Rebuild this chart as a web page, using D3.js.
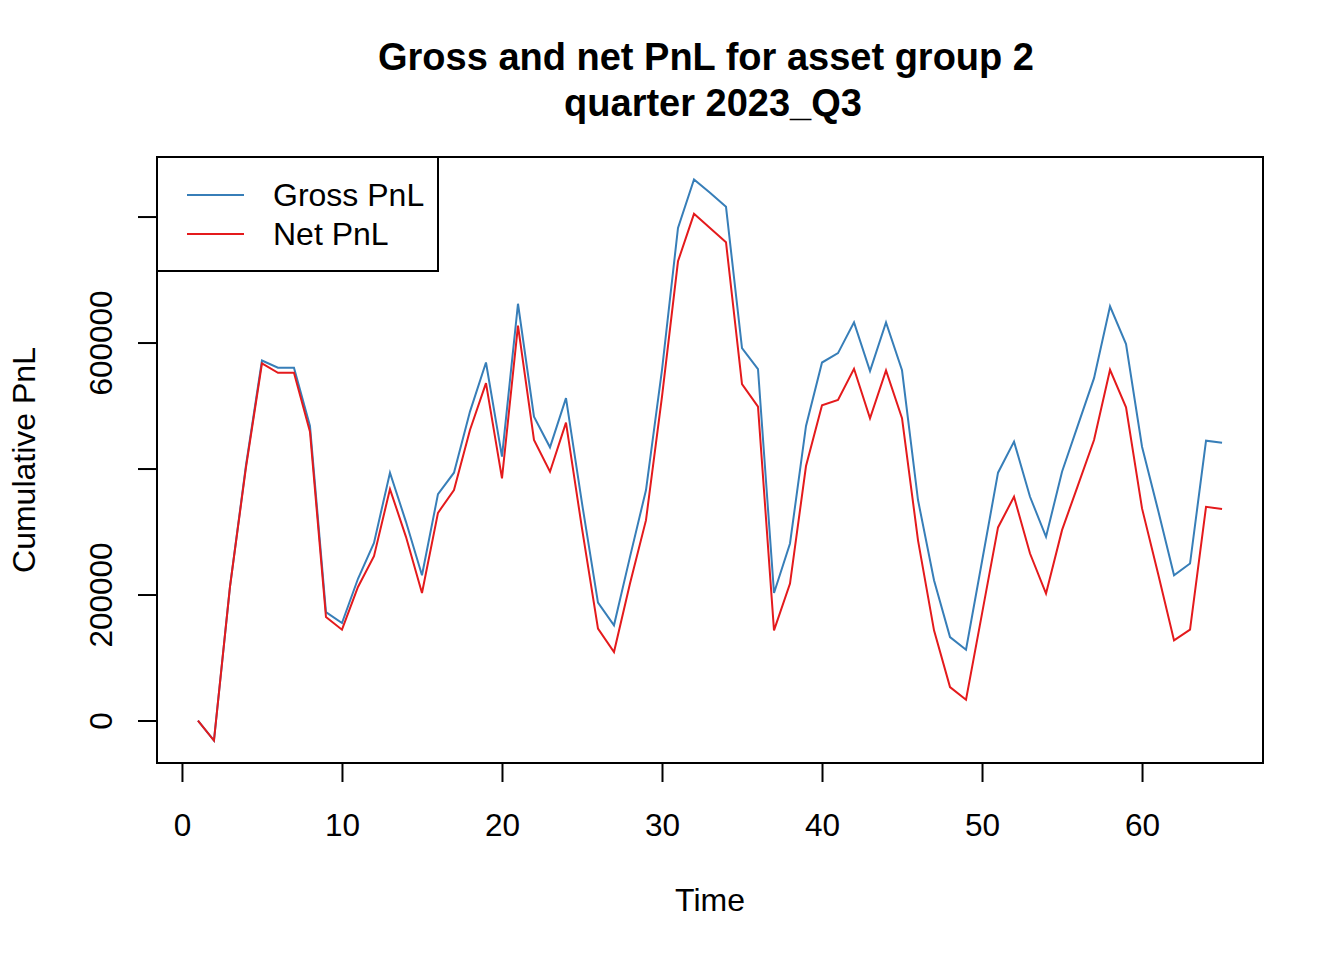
<!DOCTYPE html>
<html>
<head>
<meta charset="utf-8">
<script src="https://cdn.jsdelivr.net/npm/d3@7"></script>
<style>
  body { margin: 0; background: #fff; }
  text { font-family: "Liberation Sans", Arial, sans-serif; fill: #000; }
</style>
</head>
<body>
<script>
const times = d3.range(1, 66)

const gross = [
  0, -31800, 212000, 405000, 571500, 560000, 560000, 467600, 172000, 154800,
  225000, 282000, 393400, 315400, 230600, 359500, 393400, 490400, 568300, 418800,
  661600, 482400, 433700, 511700, 345000, 187200, 151100, 259800, 365800, 556700,
  782000, 858900, 837700, 815400, 591200, 557800, 202500, 281000, 467600, 568300,
  583200, 632000, 554600, 632000, 556000, 350000, 222700, 132500, 112400, 252900,
  393400, 442700, 355200, 291600, 395000, 469200, 543500, 657400, 597500, 434700,
  334000, 230600, 249200, 444200, 441000
]

const net = [
  0, -31800, 212000, 402000, 567000, 552000, 552000, 458600, 164300, 144200,
  212000, 260800, 367400, 291600, 202500, 329700, 365800, 461200, 535500, 384400,
  626700, 445300, 395000, 472900, 305000, 145800, 108700, 217400, 318100, 514200,
  729000, 804300, 782000, 759200, 533900, 498300, 143100, 217400, 404000, 500500,
  509000, 558300, 479800, 555600, 480000, 286000, 143100, 53000, 32900, 169700,
  306500, 355200, 265100, 201500, 302200, 373800, 445300, 556700, 497300, 336700,
  233300, 127200, 144200, 339300, 335600
]

const seriesNames = ['Gross PnL', 'Net PnL']
const seriesColors = ['#377EB8', '#E41A1C']
const xTicks = [0, 10, 20, 30, 40, 50, 60]
const yTicks = [0, 200000, 400000, 600000, 800000]
// R drops labels that would overlap
const yTickLabels = ['0', '200000', '', '600000', '']

const W = 1344, H = 960
const box = { left: 157, right: 1263, top: 157, bottom: 763 }

const svg = d3.select('body').append('svg')
  .attr('width', W)
  .attr('height', H)

// R style 4% padding on both axes
const pad = (lo, hi) => [lo - (hi - lo) * 0.04, hi + (hi - lo) * 0.04]
const xDom = pad(d3.min(times), d3.max(times))
const yDom = pad(d3.min(gross.concat(net)), d3.max(gross.concat(net)))

const x = d3.scaleLinear().domain(xDom).range([box.left, box.right])
const y = d3.scaleLinear().domain(yDom).range([box.bottom, box.top])

// lines
const series = [gross, net]
series.forEach((vals, i) => {
  svg.append('path')
    .datum(vals)
    .attr('fill', 'none')
    .attr('stroke', seriesColors[i])
    .attr('stroke-width', 2)
    .attr('stroke-linejoin', 'miter')
    .attr('d', d3.line().x((d, j) => x(times[j])).y(d => y(d)))
})

// x axis
const xAxis = svg.append('g')
  .attr('transform', `translate(0,${box.bottom})`)
  .call(d3.axisBottom(x).tickValues(xTicks).tickSize(19).tickSizeOuter(0))
xAxis.select('.domain')
  .attr('d', `M${x(xTicks[0])},0H${x(xTicks[xTicks.length - 1])}`)
  .attr('stroke-width', 2)
xAxis.selectAll('.tick line').attr('stroke-width', 2)
xAxis.selectAll('.tick text')
  .attr('font-size', 31.5)
  .attr('font-family', '"Liberation Sans", Arial, sans-serif')
  .attr('y', 73)
  .attr('dy', 0)

// y axis
const yAxis = svg.append('g')
  .attr('transform', `translate(${box.left},0)`)
  .call(d3.axisLeft(y).tickValues(yTicks).tickSize(19).tickSizeOuter(0)
    .tickFormat((d, i) => yTickLabels[i]))
yAxis.select('.domain')
  .attr('d', `M0,${y(yTicks[0])}V${y(yTicks[yTicks.length - 1])}`)
  .attr('stroke-width', 2)
yAxis.selectAll('.tick line').attr('stroke-width', 2)
yAxis.selectAll('.tick text')
  .attr('font-size', 31.5)
  .attr('font-family', '"Liberation Sans", Arial, sans-serif')
  .attr('x', 0)
  .attr('dy', 0)
  .attr('text-anchor', 'middle')
  .attr('transform', 'translate(-45,0) rotate(-90)')

// plot box
svg.append('rect')
  .attr('x', box.left)
  .attr('y', box.top)
  .attr('width', box.right - box.left)
  .attr('height', box.bottom - box.top)
  .attr('fill', 'none')
  .attr('stroke', '#000')
  .attr('stroke-width', 2)

// titles
const cx = (box.left + box.right) / 2
svg.append('text')
  .attr('x', cx - 4).attr('y', 70)
  .attr('text-anchor', 'middle')
  .attr('font-size', 38)
  .attr('font-weight', 'bold')
  .text('Gross and net PnL for asset group 2')
svg.append('text')
  .attr('x', cx + 3).attr('y', 116)
  .attr('text-anchor', 'middle')
  .attr('font-size', 38)
  .attr('font-weight', 'bold')
  .text('quarter 2023_Q3')

svg.append('text')
  .attr('x', cx).attr('y', 911)
  .attr('text-anchor', 'middle')
  .attr('font-size', 32)
  .text('Time')

svg.append('text')
  .attr('transform', `translate(35,${(box.top + box.bottom) / 2}) rotate(-90)`)
  .attr('text-anchor', 'middle')
  .attr('font-size', 32)
  .text('Cumulative PnL')

// legend
const legend = svg.append('g')
legend.append('rect')
  .attr('x', box.left).attr('y', box.top)
  .attr('width', 281).attr('height', 114)
  .attr('fill', '#fff')
  .attr('stroke', '#000')
  .attr('stroke-width', 2)
seriesNames.forEach((name, i) => {
  const ly = 195 + i * 39
  legend.append('line')
    .attr('x1', 187).attr('x2', 244)
    .attr('y1', ly).attr('y2', ly)
    .attr('stroke', seriesColors[i])
    .attr('stroke-width', 2)
  legend.append('text')
    .attr('x', 273).attr('y', ly + 11)
    .attr('font-size', 32)
    .text(name)
})
</script>
</body>
</html>
